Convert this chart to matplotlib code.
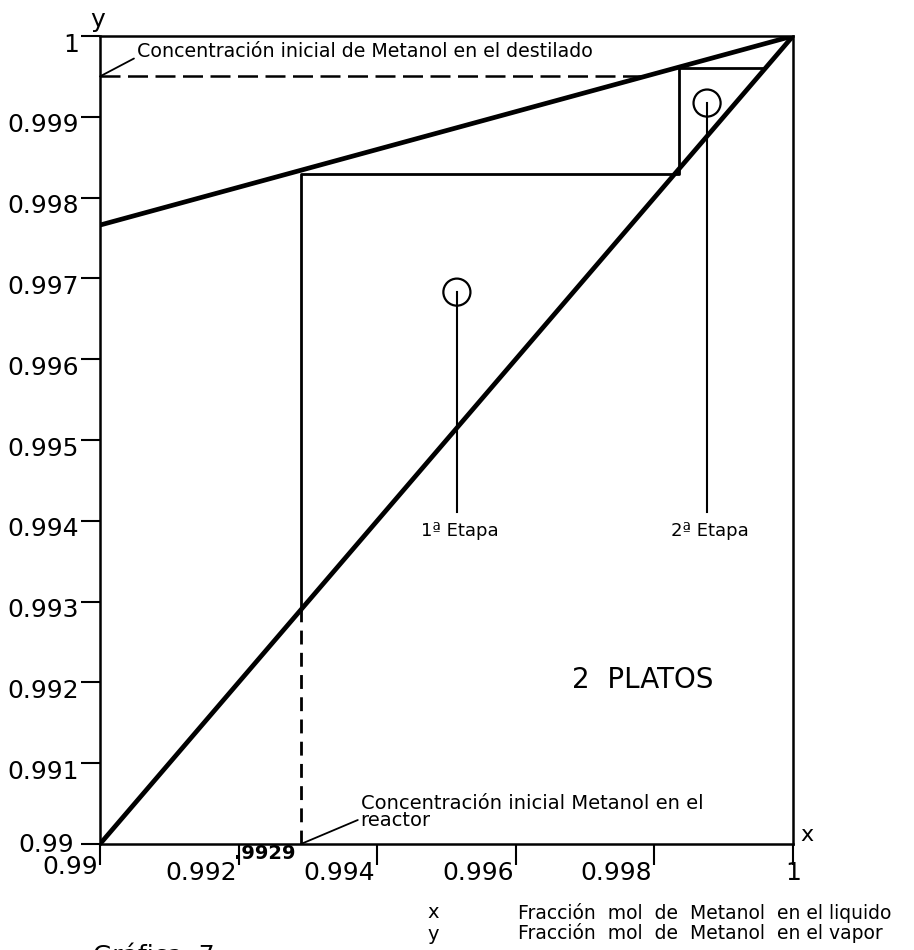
import matplotlib
matplotlib.use("Agg")
import matplotlib.pyplot as plt
import matplotlib.transforms as mtransforms

# Diagrama x-y de Metanol (zona rica), escalonamiento de 2 platos
x_ticks = [0.99, 0.992, 0.994, 0.996, 0.998, 1.0]
x_tick_labels = ["0.99", "0.992", "0.994", "0.996", "0.998", "1"]
y_ticks = [0.99, 0.991, 0.992, 0.993, 0.994, 0.995, 0.996, 0.997, 0.998, 0.999, 1.0]
y_tick_labels = ["0.99", "0.991", "0.992", "0.993", "0.994", "0.995",
                 "0.996", "0.997", "0.998", "0.999", "1"]

# linea y = x y linea de operacion
diag_x = [0.99, 1.0]
diag_y = [0.99, 1.0]
oper_x = [0.99, 1.0]
oper_y = [0.99766, 1.0]

# concentraciones iniciales
x_reactor = 0.9929
y_destilado = 0.9995
x_fin_destilado = 0.99786

# escalones (platos)
esc_x = [0.9929, 0.9929, 0.99836, 0.99836, 0.9996]
esc_y = [0.9929, 0.99829, 0.99829, 0.9996, 0.9996]

# marcas de etapa
etapas_x = [0.99515, 0.99876]
etapas_y_circ = [0.99683, 0.99917]
etapas_y_fin = [0.99411, 0.99411]
etapas_txt = ["1ª Etapa", "2ª Etapa"]

W, H = 914, 950
plt.rcParams["font.family"] = ["DejaVu Sans"]


def fx(px):
    return px / W


def fy(py):
    return 1 - py / H


fig = plt.figure(figsize=(W / 100, H / 100), dpi=100)
fig.patch.set_facecolor("white")
ax = fig.add_axes([fx(100), fy(844), fx(793) - fx(100), fy(36) - fy(844)])
ax.set_xlim(0.99, 1.0)
ax.set_ylim(0.99, 1.0)

for s in ax.spines.values():
    s.set_linewidth(1.8)
    s.set_color("black")

ax.plot(diag_x, diag_y, color="black", lw=3.4, solid_capstyle="round", zorder=3)
ax.plot(oper_x, oper_y, color="black", lw=3.4, solid_capstyle="round", zorder=3)
ax.plot(esc_x, esc_y, color="black", lw=2.0, zorder=2)
ax.plot([x_reactor, x_reactor], [0.99, esc_y[0]], color="black", lw=2.0,
        dashes=(5, 3), zorder=2)
ax.plot([0.99, x_fin_destilado], [y_destilado, y_destilado], color="black",
        lw=1.8, dashes=(8, 3), zorder=2)

# circulos y lineas de referencia de cada etapa
for xe, yc, yf, t in zip(etapas_x, etapas_y_circ, etapas_y_fin, etapas_txt):
    ax.plot([xe, xe], [yc, yf], color="black", lw=1.5, zorder=2)
    ax.scatter([xe], [yc], s=380, facecolors="none", edgecolors="black",
               linewidths=1.6, zorder=4)
    ax.text(xe - 0.00052, yf - 0.00012, t, fontsize=13, ha="left", va="top")

ax.text(0.99681, 0.99203, "2  PLATOS", fontsize=20, ha="left", va="center")

# ticks
ax.set_xticks(x_ticks)
ax.set_xticklabels(x_tick_labels)
ax.set_yticks(y_ticks)
ax.set_yticklabels(y_tick_labels)
ax.tick_params(axis="x", direction="out", length=15, width=1.5, pad=-3,
               labelsize=18)
ax.tick_params(axis="y", direction="out", length=14, width=1.5, pad=1,
               labelsize=18)
xlabs = ax.get_xticklabels()
for lab in xlabs[:-1]:
    lab.set_ha("right")
    lab.set_transform(lab.get_transform() + mtransforms.ScaledTranslation(
        -0.02, 0, fig.dpi_scale_trans))
xlabs[0].set_transform(xlabs[0].get_transform() + mtransforms.ScaledTranslation(
    0, 0.06, fig.dpi_scale_trans))
xlabs[-1].set_ha("center")
ylabs = ax.get_yticklabels()
for lab in ylabs[1:]:
    lab.set_transform(lab.get_transform() + mtransforms.ScaledTranslation(
        0, -0.06, fig.dpi_scale_trans))
ylabs[0].set_transform(ylabs[0].get_transform() + mtransforms.ScaledTranslation(
    -0.05, 0.02, fig.dpi_scale_trans))

# valor de x del reactor
ax.text(x_reactor - 0.00008, 0.99, ".9929", fontsize=14, fontweight="bold",
        ha="right", va="top")

# anotaciones con linea de llamada
ax.annotate("Concentración inicial de Metanol en el destilado",
            xy=(0.99, y_destilado), xytext=(0.99053, 0.99981),
            fontsize=13.7, ha="left", va="center",
            arrowprops=dict(arrowstyle="-", color="black", lw=1.3,
                            shrinkA=0, shrinkB=0, relpos=(0, 0.2)))
ax.annotate("Concentración inicial Metanol en el\nreactor",
            xy=(x_reactor, 0.99), xytext=(0.99376, 0.99040),
            fontsize=14, ha="left", va="center", linespacing=0.85,
            arrowprops=dict(arrowstyle="-", color="black", lw=1.3,
                            shrinkA=0, shrinkB=0, relpos=(0, 0.3)))

# nombres de ejes
fig.text(fx(98), fy(20), "y", fontsize=18, ha="center", va="center")
fig.text(fx(807), fy(835), "x", fontsize=16, ha="center", va="center")

# leyenda de variables
fig.text(fx(433), fy(913), "x", fontsize=14, ha="center", va="center")
fig.text(fx(433), fy(934), "y", fontsize=14, ha="center", va="center")
fig.text(fx(518), fy(913), "Fracción  mol  de  Metanol  en el liquido",
         fontsize=13.5, ha="left", va="center")
fig.text(fx(518), fy(933), "Fracción  mol  de  Metanol  en el vapor",
         fontsize=13.5, ha="left", va="center")
fig.text(fx(93), fy(944), "Gráfica  7", fontsize=18, ha="left", va="top")

fig.savefig("out.png", dpi=100, facecolor="white")
